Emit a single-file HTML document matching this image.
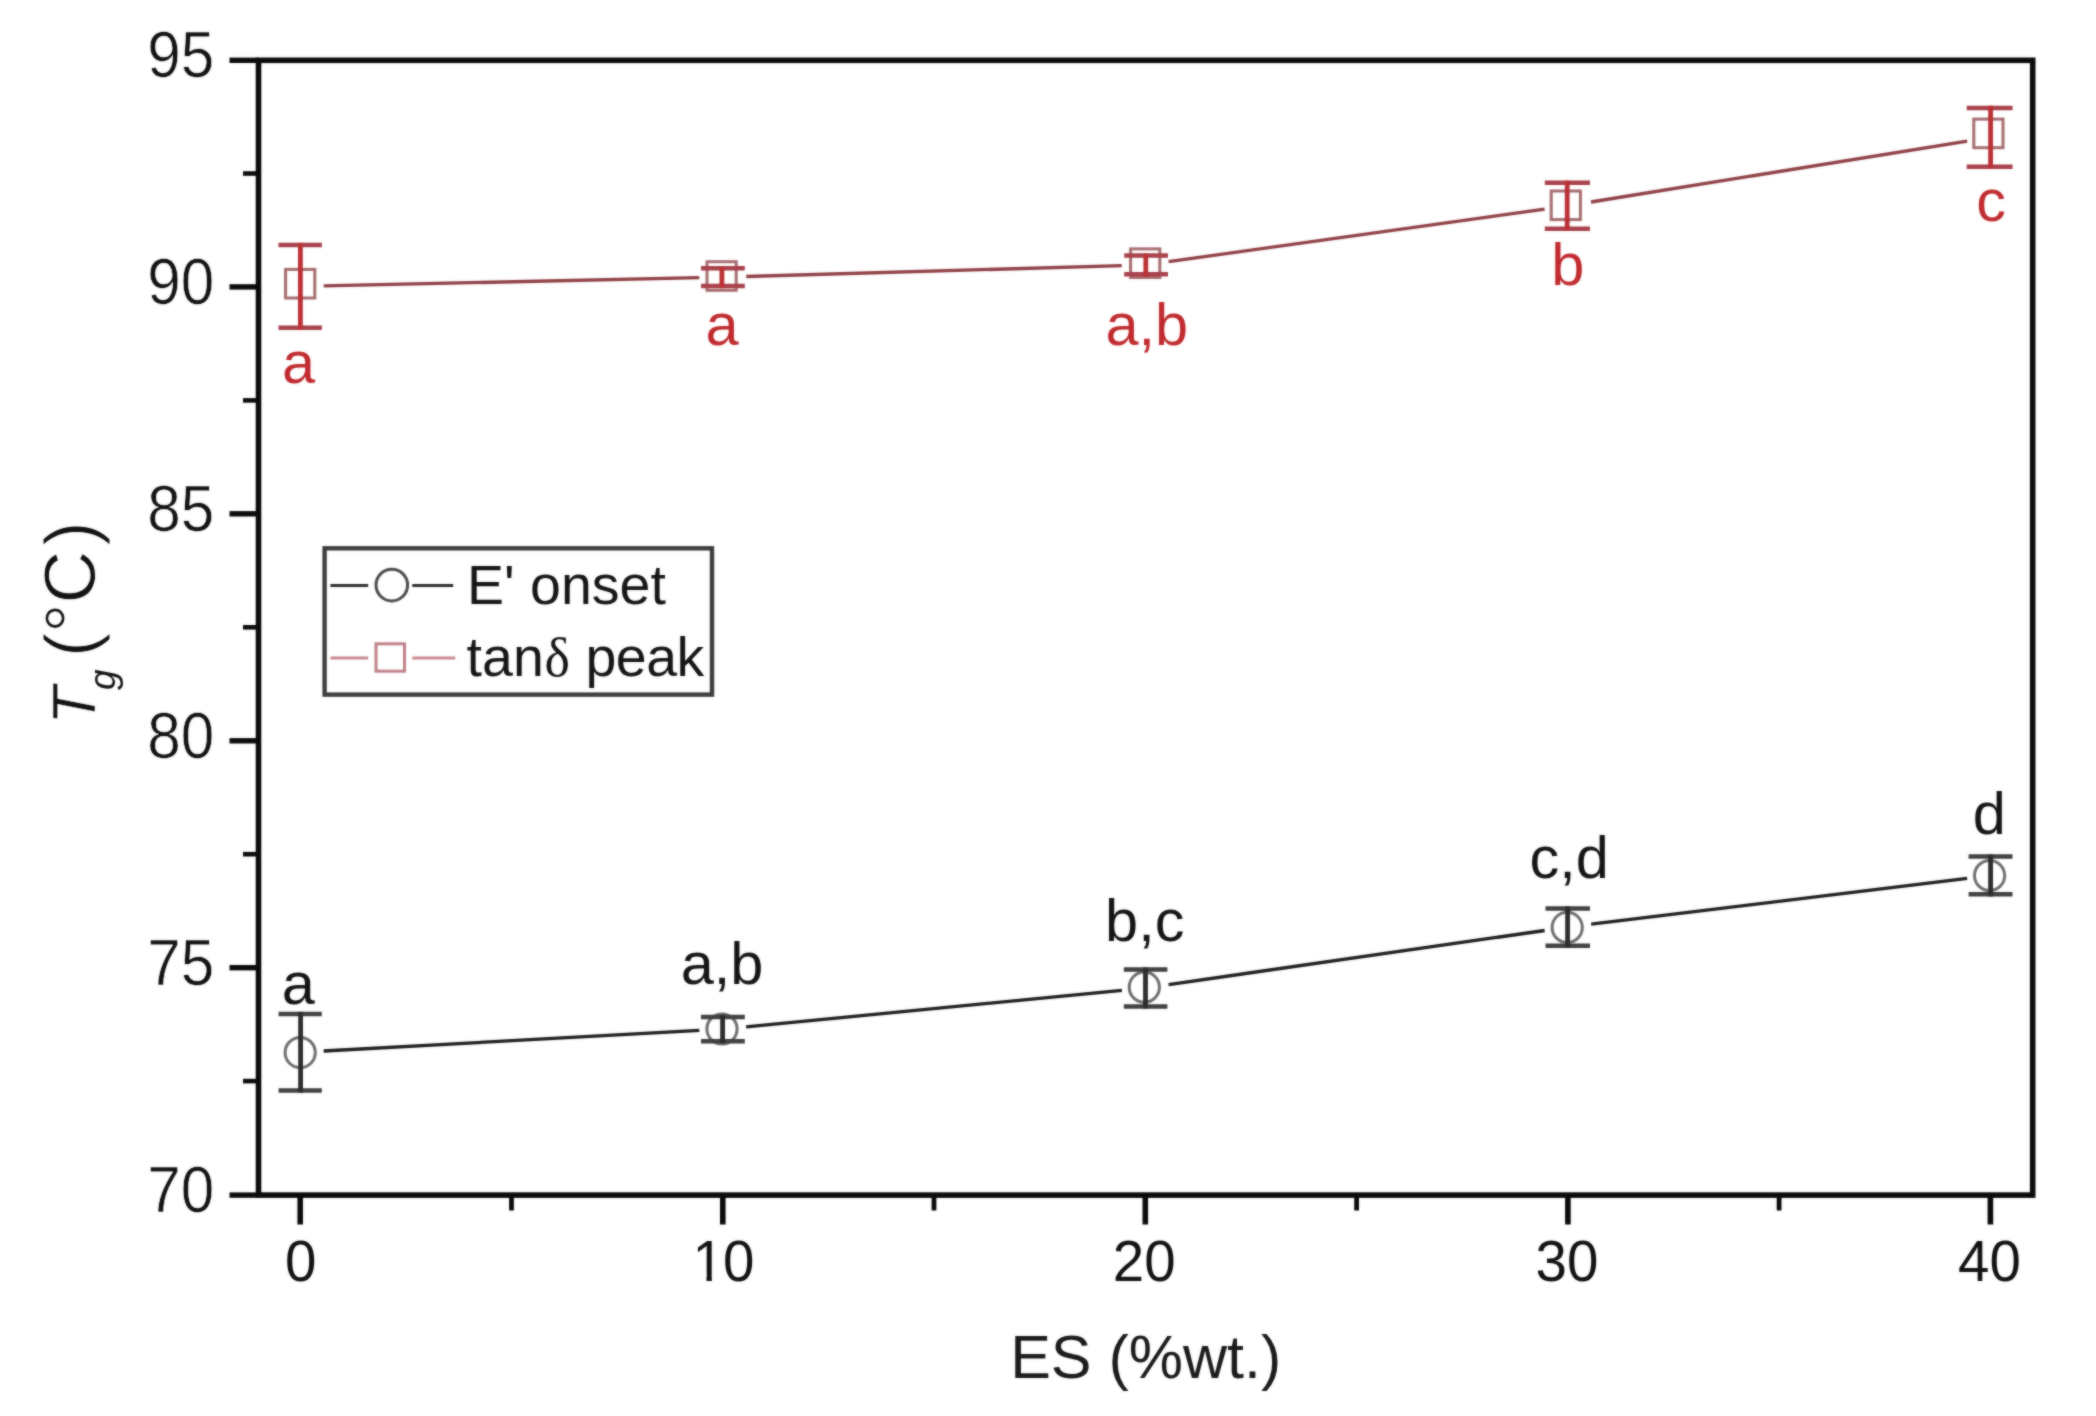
<!DOCTYPE html>
<html lang="en"><head><meta charset="utf-8"><title>Tg vs ES content</title>
<style>html,body{margin:0;padding:0;background:#fff}svg{display:block}text{font-family:"Liberation Sans",sans-serif}</style>
</head><body>
<svg width="2096" height="1416" viewBox="0 0 2096 1416">
<rect width="2096" height="1416" fill="#fff"/>
<defs><filter id="soft" filterUnits="userSpaceOnUse" x="0" y="0" width="2096" height="1416" color-interpolation-filters="sRGB"><feGaussianBlur in="SourceGraphic" stdDeviation="1" result="b"/><feComposite in="SourceGraphic" in2="b" operator="arithmetic" k1="0" k2="0.45" k3="0.55" k4="0"/></filter></defs>
<g id="chart" filter="url(#soft)">
<g stroke="#0a0a0a" stroke-width="5.6" fill="none" stroke-linecap="butt">
<rect x="258.5" y="60.3" width="1774.2" height="1134.8"/>
</g>
<g stroke="#0a0a0a" stroke-width="5.4">
<line x1="229.5" y1="1195.1" x2="258.5" y2="1195.1"/>
<line x1="229.5" y1="967.7" x2="258.5" y2="967.7"/>
<line x1="229.5" y1="740.8" x2="258.5" y2="740.8"/>
<line x1="229.5" y1="513.8" x2="258.5" y2="513.8"/>
<line x1="229.5" y1="286.9" x2="258.5" y2="286.9"/>
<line x1="229.5" y1="60.3" x2="258.5" y2="60.3"/>
</g>
<g stroke="#0a0a0a" stroke-width="4.6">
<line x1="243" y1="1081.1" x2="258.5" y2="1081.1"/>
<line x1="243" y1="854.2" x2="258.5" y2="854.2"/>
<line x1="243" y1="627.3" x2="258.5" y2="627.3"/>
<line x1="243" y1="400.4" x2="258.5" y2="400.4"/>
<line x1="243" y1="173.5" x2="258.5" y2="173.5"/>
</g>
<g stroke="#0a0a0a" stroke-width="5.6">
<line x1="300.2" y1="1195.1" x2="300.2" y2="1224.5"/>
<line x1="722.8" y1="1195.1" x2="722.8" y2="1224.5"/>
<line x1="1145.3" y1="1195.1" x2="1145.3" y2="1224.5"/>
<line x1="1567.9" y1="1195.1" x2="1567.9" y2="1224.5"/>
<line x1="1990.4" y1="1195.1" x2="1990.4" y2="1224.5"/>
</g>
<g stroke="#0a0a0a" stroke-width="4.8">
<line x1="511.5" y1="1195.1" x2="511.5" y2="1210.5"/>
<line x1="934.0" y1="1195.1" x2="934.0" y2="1210.5"/>
<line x1="1356.6" y1="1195.1" x2="1356.6" y2="1210.5"/>
<line x1="1779.1" y1="1195.1" x2="1779.1" y2="1210.5"/>
</g>
<g font-size="62" fill="#111" text-anchor="end">
<text transform="translate(214.4,1211.9) scale(0.973,1.042)" stroke="#fff" stroke-width="0.6">70</text>
<text transform="translate(214.4,985.0) scale(0.973,1.042)" stroke="#fff" stroke-width="0.6">75</text>
<text transform="translate(214.4,758.1) scale(0.973,1.042)" stroke="#fff" stroke-width="0.6">80</text>
<text transform="translate(214.4,531.1) scale(0.973,1.042)" stroke="#fff" stroke-width="0.6">85</text>
<text transform="translate(214.4,304.2) scale(0.973,1.042)" stroke="#fff" stroke-width="0.6">90</text>
<text transform="translate(214.4,77.3) scale(0.973,1.042)" stroke="#fff" stroke-width="0.6">95</text>
</g>
<g font-size="56.5" fill="#111" text-anchor="middle">
<text x="300.7" y="1281.3">0</text>
<text x="1144.3" y="1281.3">20</text>
<text x="1566.9" y="1281.3">30</text>
<text x="1989.4" y="1281.3">40</text>
<text x="692.4 723.1" y="1281.3" text-anchor="start">10</text>
<path d="M691 1275.2H706.5V1284H691ZM711.8 1275.2H724.6V1284H711.8Z" fill="#fff"/>
</g>
<text x="1145.7" y="1377.9" font-size="61" fill="#1a1a1a" text-anchor="middle">ES (%wt.)</text>
<g transform="translate(95,0) rotate(-90)" fill="#111">
<text y="0" font-size="73" stroke="#fff" stroke-width="0.9"><tspan x="-724.5" font-size="62" font-style="italic" stroke-width="0.5">T</tspan><tspan x="-690" y="20.3" font-size="37" font-style="italic" stroke="none">g </tspan><tspan x="-657" y="0">(°C</tspan><tspan dx="5">)</tspan></text>
</g>
<g stroke="#8e3e44" stroke-width="3.3" fill="none">
<line x1="323.7" y1="285.9" x2="699.3" y2="277.7"/>
<line x1="746.2" y1="276.5" x2="1121.8" y2="265.6"/>
<line x1="1168.6" y1="261.7" x2="1544.6" y2="209.1"/>
<line x1="1591.0" y1="202.0" x2="1967.2" y2="141.1"/>
</g>
<g stroke="#a66c6f" stroke-width="3" fill="none">
<rect x="285.6" y="269.4" width="29.2" height="28.6"/>
<rect x="707.0" y="261.7" width="29.2" height="28.6"/>
<rect x="1130.6" y="248.9" width="29.2" height="28.6"/>
<rect x="1551.2" y="191.0" width="29.2" height="28.6"/>
<rect x="1973.8" y="119.1" width="29.2" height="28.6"/>
</g>
<g stroke="#a8404a" stroke-width="4.5" fill="none">
<path d="M278.5 245.0H321.9M278.5 327.8H321.9"/>
<path d="M701.0 268.3H744.8M701.0 286.0H744.8"/>
<path d="M1124.2 255.6H1168.0M1124.2 274.3H1168.0"/>
<path d="M1544.8 182.8H1590.0M1544.8 228.8H1590.0"/>
<path d="M1966.7 107.9H2012.6M1966.7 166.7H2012.6"/>
</g>
<g stroke="#bb3034" stroke-width="4.8" fill="none">
<line x1="300.4" y1="242.8" x2="300.4" y2="330.0"/>
<line x1="721.9" y1="266.1" x2="721.9" y2="288.2"/>
<line x1="1145.8" y1="253.4" x2="1145.8" y2="276.5"/>
<line x1="1567.2" y1="180.6" x2="1567.2" y2="231.0"/>
<line x1="1990.6" y1="105.7" x2="1990.6" y2="168.9"/>
</g>
<g stroke="#1c1c1c" stroke-width="3.3" fill="none">
<line x1="323.7" y1="1051.0" x2="699.3" y2="1030.4"/>
<line x1="746.1" y1="1026.9" x2="1121.9" y2="990.3"/>
<line x1="1168.6" y1="984.6" x2="1544.6" y2="930.5"/>
<line x1="1591.2" y1="924.2" x2="1967.1" y2="878.3"/>
</g>
<g stroke="#6e6e6e" stroke-width="3" fill="none">
<circle cx="300.2" cy="1052.6" r="15.1"/>
<circle cx="722.0" cy="1029.0" r="15.1"/>
<circle cx="1144.3" cy="987.2" r="15.1"/>
<circle cx="1567.2" cy="927.4" r="15.1"/>
<circle cx="1989.6" cy="875.5" r="15.1"/>
</g>
<g stroke="#404040" stroke-width="4.5" fill="none">
<path d="M278.6 1014.0H321.8M278.6 1090.5H321.8"/>
<path d="M701.0 1017.0H744.8M701.0 1041.3H744.8"/>
<path d="M1123.8 969.6H1167.4M1123.8 1006.4H1167.4"/>
<path d="M1545.5 908.5H1590.0M1545.5 945.7H1590.0"/>
<path d="M1968.6 856.6H2012.5M1968.6 894.3H2012.5"/>
</g>
<g stroke="#2c2c2c" stroke-width="4.8" fill="none">
<line x1="300.6" y1="1011.8" x2="300.6" y2="1092.7"/>
<line x1="722.6" y1="1014.8" x2="722.6" y2="1043.5"/>
<line x1="1145.5" y1="967.4" x2="1145.5" y2="1008.6"/>
<line x1="1567.6" y1="906.3" x2="1567.6" y2="947.9"/>
<line x1="1990.6" y1="854.4" x2="1990.6" y2="896.5"/>
</g>
<g font-size="59.5" fill="#c02a2e" text-anchor="middle">
<text x="298.5" y="383.4">a</text>
<text x="722.0" y="345.2">a</text>
<text x="1146.8" y="344.8">a,b</text>
<text x="1567.8" y="285.3">b</text>
<text x="1991.0" y="221.2">c</text>
</g>
<g font-size="59.5" fill="#141414" text-anchor="middle">
<text x="298.3" y="1004.0">a</text>
<text x="722" y="983.5">a,b</text>
<text x="1144.8" y="941.3">b,c</text>
<text x="1569.1" y="877.8">c,d</text>
<text x="1989.3" y="834.4">d</text>
</g>
<g id="legend">
<rect x="324.6" y="548.3" width="387.4" height="146.3" fill="#fff" stroke="#3c3c3c" stroke-width="4.4"/>
<g stroke="#2c2c2c" stroke-width="3" fill="none"><line x1="330.4" y1="585.6" x2="368.2" y2="585.6"/><line x1="412.3" y1="585.6" x2="453.2" y2="585.6"/></g>
<circle cx="391.8" cy="585.1" r="15.8" fill="none" stroke="#4a4a4a" stroke-width="3"/>
<g stroke="#c8888e" stroke-width="3" fill="none"><line x1="330.4" y1="658" x2="368.2" y2="658"/><line x1="412.3" y1="658" x2="455.3" y2="658"/></g>
<rect x="376" y="643.8" width="28.5" height="27.4" fill="none" stroke="#c08088" stroke-width="3"/>
<text x="467" y="603.6" font-size="55.5" fill="#141414">E' onset</text>
<text x="466.6" y="675.8" font-size="55.5" fill="#141414">tan<tspan x="544.5" font-family="Liberation Serif, serif" font-size="54">δ </tspan><tspan x="585.6" letter-spacing="-0.6">peak</tspan></text>
</g>
</g>
</svg>
</body></html>
